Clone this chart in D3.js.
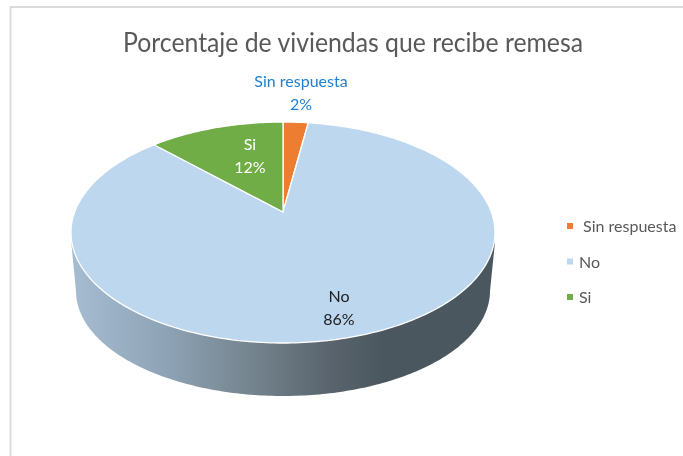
<!DOCTYPE html>
<html><head><meta charset="utf-8">
<script src="https://cdn.jsdelivr.net/npm/d3@7"></script>
<style>
html,body{margin:0;padding:0;background:#fff;overflow:hidden}
svg{display:block;filter:blur(0.35px)}
text{font-family:Lato,"Open Sans",sans-serif;white-space:pre}
</style></head><body>
<div id="chart"></div>
<script>
const titleText = "Porcentaje de viviendas que recibe remesa";
const categories = ["Sin respuesta", "No", "Si"];
const values = [2.3, 85.6, 12.4];
const colors = ["#ed7d31", "#bdd7ee", "#70ad47"];
const labelColors = ["#1f80cf", "#1c1c1c", "#ffffff"];
const legendLabels = [" Sin respuesta", "No", "Si"];
const sideStops = [[0,"#a6bcd1"],[0.22,"#8ea3b5"],[0.42,"#75858f"],[0.6,"#5a656f"],[0.74,"#4b575e"],[1,"#4b575e"]];

const W = 683, H = 456;
const svg = d3.select("#chart").append("svg").attr("width", W).attr("height", H);

// frame
svg.append("path").attr("d", `M10.5,${H}V7H${W}`).attr("fill","none").attr("stroke","#dcdcdc").attr("stroke-width",2);

// tilted-disc projection: unit circle -> screen, apex off-centre by perspective
const apex = {x:283, y:212};
const k = 0.1855, A = 208.3, B = 106.7;
const project = t => {           // t: clockwise angle from the top
  const u = Math.sin(t), v = -Math.cos(t), d = 1 - k*v;
  return [apex.x + A*u/d, apex.y + B*v/d];
};
const lowerEllipse = {cx:283, cy:291, rx:207, ry:105};

const pie = d3.pie().sort(null).value(d => d);
const arcs = pie(values);
const color = d3.scaleOrdinal(categories, colors);
const line = d3.line();

const defs = svg.append("defs");
const grad = defs.append("linearGradient").attr("id","side").attr("gradientUnits","userSpaceOnUse")
  .attr("x1",72).attr("x2",495).attr("y1",0).attr("y2",0);
grad.selectAll("stop").data(sideStops).join("stop")
  .attr("offset",d=>d[0]).attr("stop-color",d=>d[1]);

// side wall
const steps = d3.range(0, 181);
const lowFront = steps.map(deg => {
  const a = deg*Math.PI/180;
  return [lowerEllipse.cx - lowerEllipse.rx*Math.cos(a), lowerEllipse.cy + lowerEllipse.ry*Math.sin(a)];
});
const rimR = [494.6,246], rimL = [71.6,246];
svg.append("path")
  .attr("d", line([rimL, ...lowFront, rimR]) + "L495,232L71,232Z")
  .attr("fill","url(#side)");

// top slices
const sliceG = svg.append("g");
sliceG.selectAll("path").data(arcs).join("path")
  .attr("d", d => {
    const n = Math.max(4, Math.ceil((d.endAngle-d.startAngle)*60));
    const pts = d3.range(n+1).map(i => project(d.startAngle + (d.endAngle-d.startAngle)*i/n));
    return line([[apex.x,apex.y], ...pts]) + "Z";
  })
  .attr("fill", (d,i) => color(categories[i]))
  .attr("stroke","#fff").attr("stroke-width",1.3).attr("stroke-linejoin","round");

// title
svg.append("text").attr("x",353).attr("y",52).attr("text-anchor","middle")
  .attr("font-size",26).attr("textLength",460).attr("lengthAdjust","spacingAndGlyphs")
  .attr("fill","#595959").text(titleText);

// data labels
const labelPos = [[301,87],[339,302],[250,150]];
const fmt = d3.format(".0f");
categories.forEach((c,i) => {
  const g = svg.append("g").attr("font-size",16).attr("fill",labelColors[i]).attr("text-anchor","middle");
  g.append("text").attr("x",labelPos[i][0]).attr("y",labelPos[i][1]).text(c);
  g.append("text").attr("x",labelPos[i][0]).attr("y",labelPos[i][1]+23).text(fmt(values[i])+"%");
});

// legend
const ly = d3.scalePoint(categories,[226,297]);
const leg = svg.append("g").selectAll("g").data(categories).join("g")
  .attr("transform", d=>`translate(567,${ly(d)})`);
leg.append("rect").attr("y",-3).attr("width",6).attr("height",6).attr("fill",d=>color(d));
leg.append("text").attr("x",12).attr("y",6).attr("font-size",16).attr("fill","#595959")
  .text((d,i)=>legendLabels[i]);
</script>
</body></html>
